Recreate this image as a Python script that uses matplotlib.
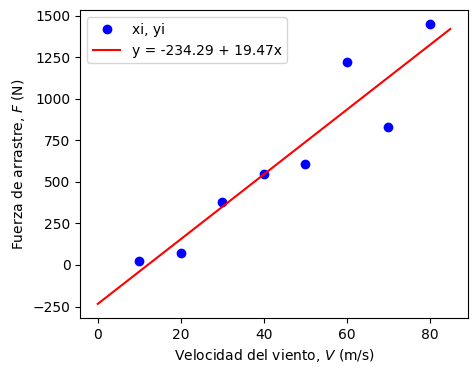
import numpy as np
import matplotlib
matplotlib.use("Agg")
import matplotlib.pyplot as plt

xi = np.array([10, 20, 30, 40, 50, 60, 70, 80])
yi = np.array([25, 70, 380, 550, 610, 1220, 830, 1450])
a0 = -234.29
a1 = 19.47
xLine = np.array([0, 85])

fig, ax = plt.subplots(figsize=(4.77, 3.74), dpi=100)
ax.plot(xi, yi, 'o', color='blue', label='xi, yi')
ax.plot(xLine, a0 + a1*xLine, color='red', label='y = %.2f + %.2fx' % (a0, a1))
ax.set_xlabel("Velocidad del viento, $V$ (m/s)")
ax.set_ylabel("Fuerza de arrastre, $F$ (N)")
ax.legend(loc='upper left')
fig.subplots_adjust(left=0.168, right=0.981, top=0.973, bottom=0.150)
fig.savefig("out.png")
